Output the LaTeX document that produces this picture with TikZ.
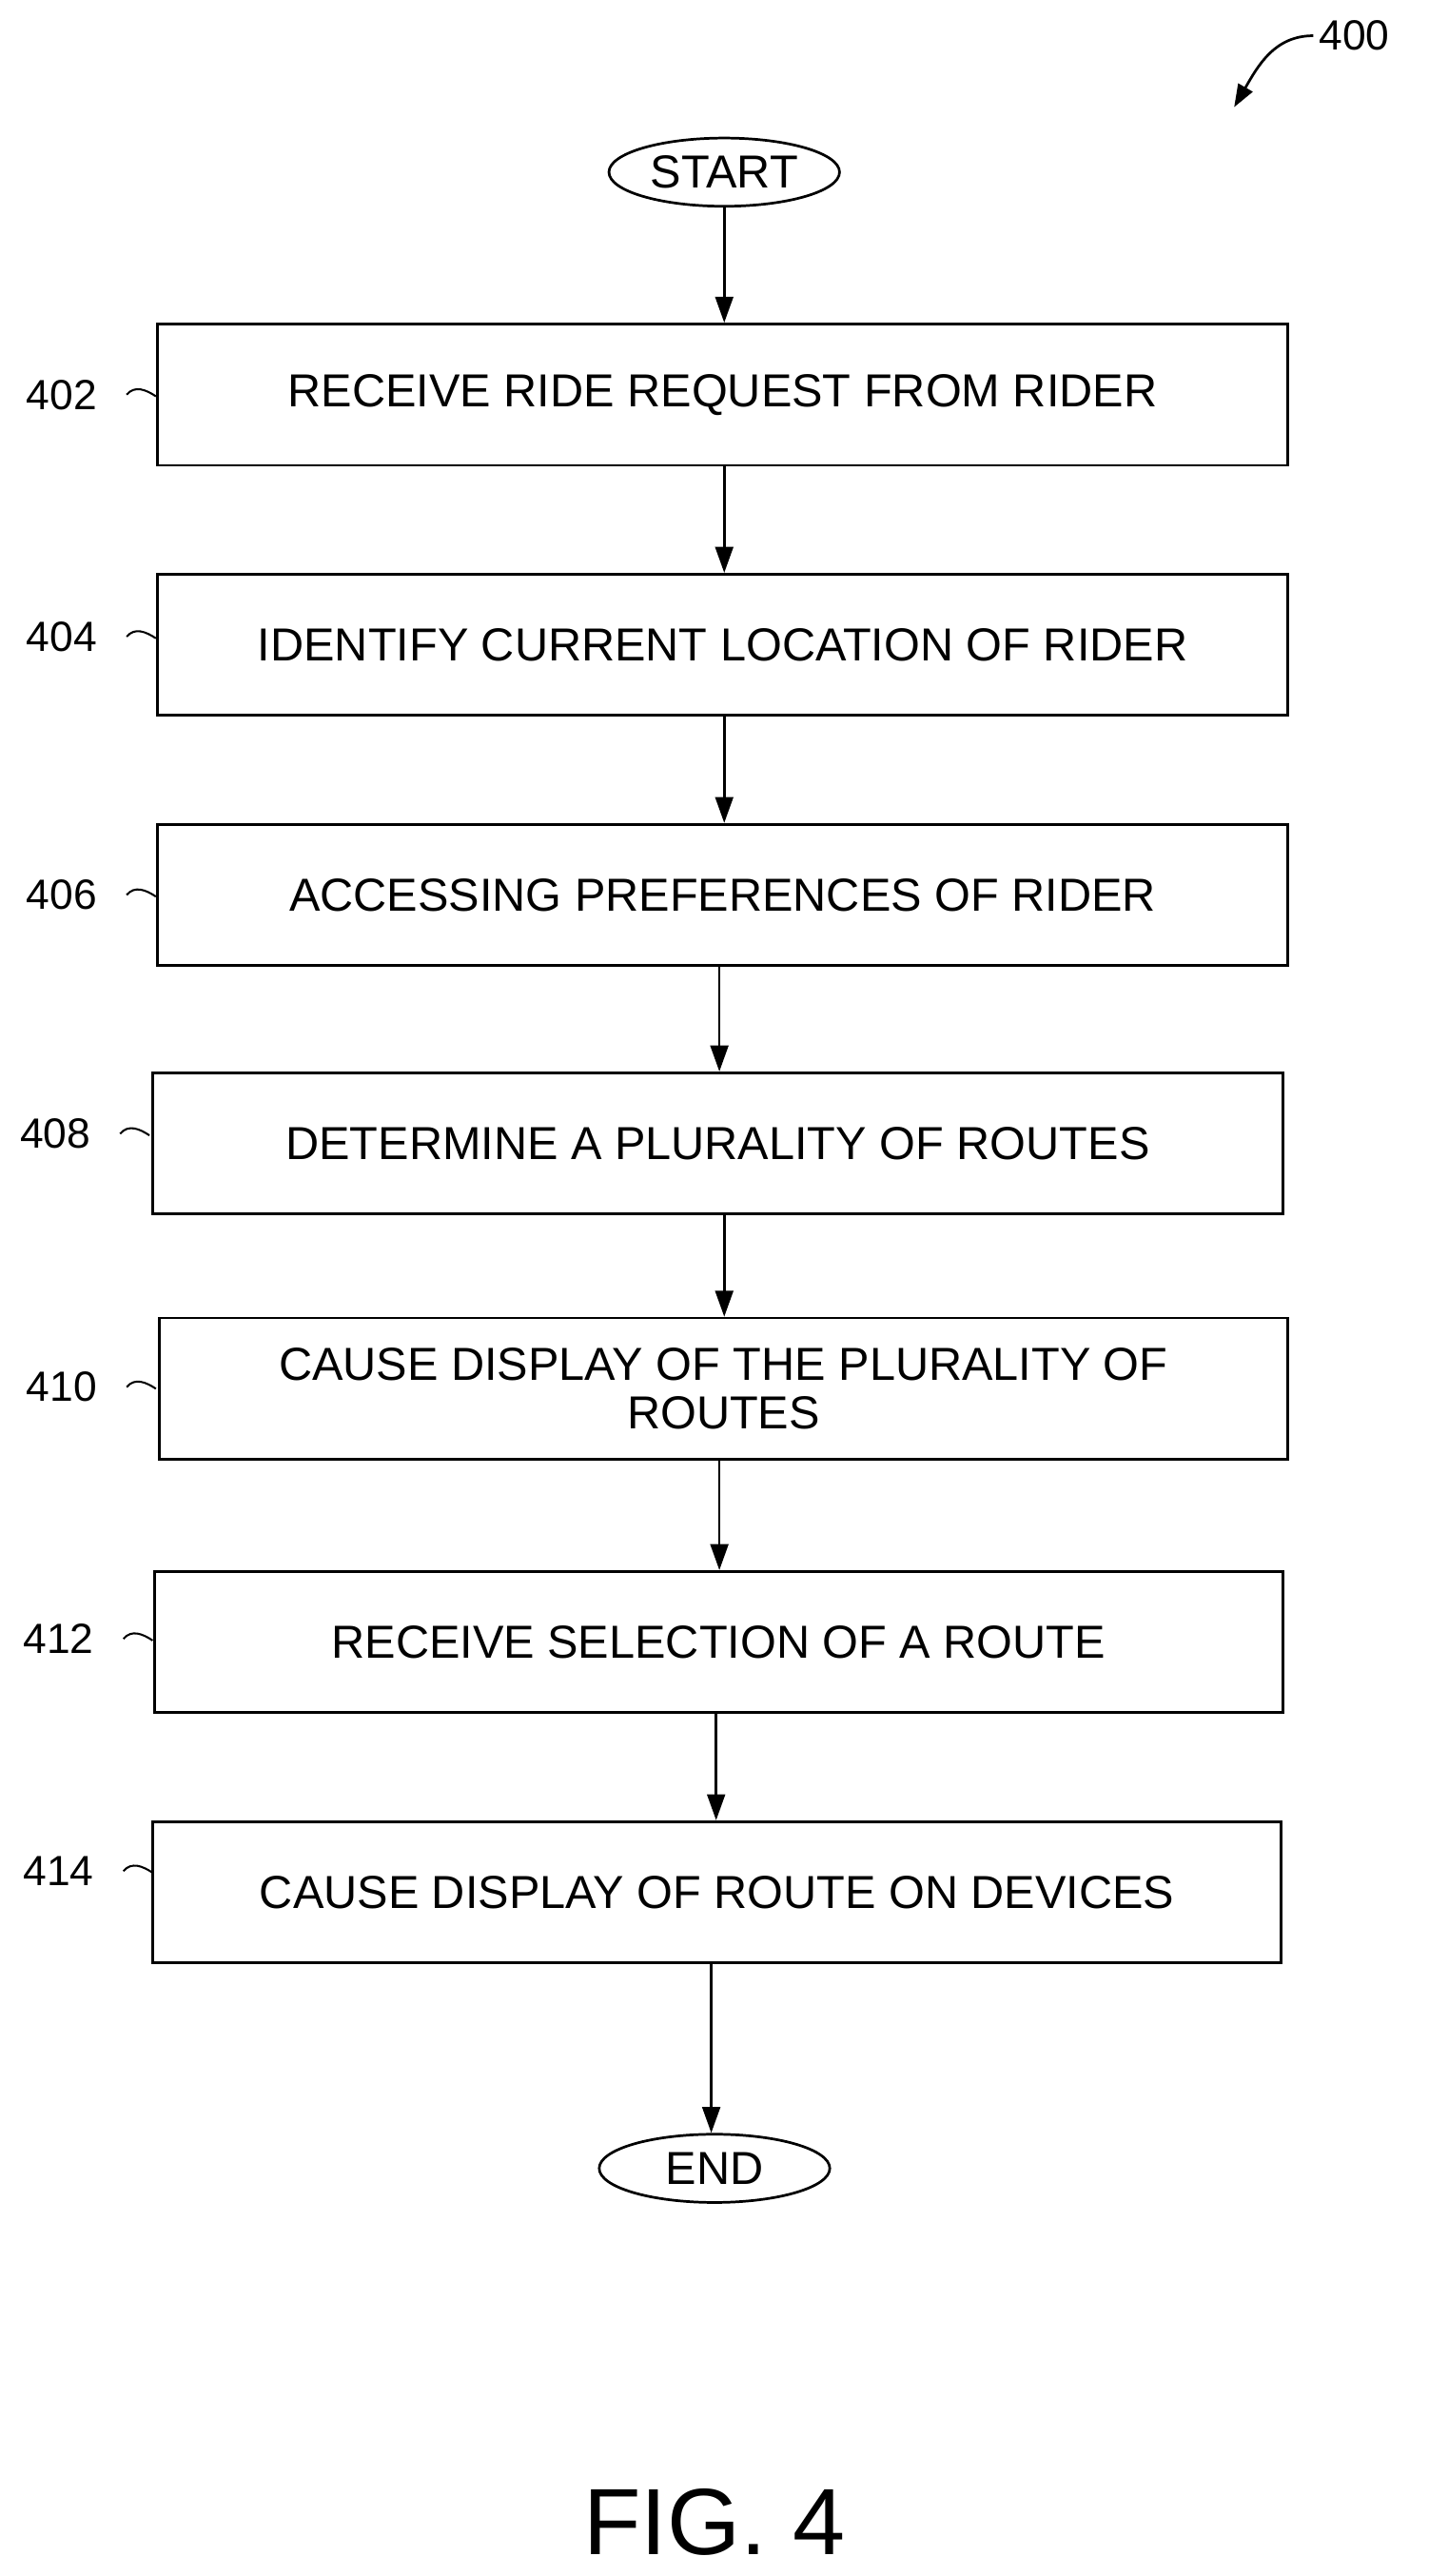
\documentclass[tikz,border=0pt]{standalone}
\usepackage{fontspec}
\setmainfont{Liberation Sans}
\usetikzlibrary{shapes.geometric,arrows.meta,calc}
\begin{document}
\begin{tikzpicture}[x=1pt,y=-1pt,
  stepbox/.style={draw,line width=1.6pt,minimum height=87pt,inner sep=0pt,font=\fontsize{28.5}{33}\selectfont,align=center},
  term/.style={draw,ellipse,line width=1.6pt,minimum width=142pt,minimum height=42pt,inner sep=0pt,font=\fontsize{28.5}{33}\selectfont},
  lbl/.style={font=\fontsize{26}{30}\selectfont},
  arr/.style={line width=1.6pt,-{Triangle[length=16pt,width=11pt]}}]
\useasboundingbox (0,0) rectangle (880,1586);
\node[term] (start) at (446,106) {START};
\node[stepbox,minimum width=696pt] (b402) at (445,243) {RECEIVE RIDE REQUEST FROM RIDER};
\node[stepbox,minimum width=696pt] (b404) at (445,397) {IDENTIFY CURRENT LOCATION OF RIDER};
\node[stepbox,minimum width=696pt] (b406) at (445,551) {ACCESSING PREFERENCES OF RIDER};
\node[stepbox,minimum width=696pt] (b408) at (442,704) {DETERMINE A PLURALITY OF ROUTES};
\node[stepbox,minimum width=695pt] (b410) at (445.5,855) {CAUSE DISPLAY OF THE PLURALITY OF\\[-3pt]ROUTES};
\node[stepbox,minimum width=695pt] (b412) at (442.5,1011) {RECEIVE SELECTION OF A ROUTE};
\node[stepbox,minimum width=695pt] (b414) at (441.5,1165) {CAUSE DISPLAY OF ROUTE ON DEVICES};
\node[term] (end) at (440,1335) {END};
\coordinate (x1) at (446,0); \coordinate (x2) at (446,0); \coordinate (x3) at (443,0);
\coordinate (x4) at (446,0); \coordinate (x5) at (443,0); \coordinate (x6) at (441,0); \coordinate (x7) at (438,0);
\draw[arr] (start.south -| x1) -- (b402.north -| x1);
\draw[arr] (b402.south -| x2) -- (b404.north -| x2);
\draw[arr] (b404.south -| x2) -- (b406.north -| x2);
\draw[arr] (b406.south -| x3) -- (b408.north -| x3);
\draw[arr] (b408.south -| x4) -- (b410.north -| x4);
\draw[arr] (b410.south -| x5) -- (b412.north -| x5);
\draw[arr] (b412.south -| x6) -- (b414.north -| x6);
\draw[arr] (b414.south -| x7) -- (end.north -| x7);
\foreach \n/\y/\x in {402/243/38,404/392/38,406/551/38,408/698/34,410/854/38,412/1009/36,414/1152/36}{
  \node[lbl] (l\n) at (\x,\y) {\n};
  \draw[line width=1.2pt] ($(\x,\y)+(40,0)$) .. controls +(5,-6) and +(-6,-4) .. +(18,1);
}
\node[lbl] (l400) at (834,22) {400};
\draw[line width=1.6pt,-{Triangle[length=14pt,width=10pt]}] (l400.west) .. controls (785,22) and (775,40) .. (760,66);
\node[font=\fontsize{58}{62}\selectfont] (fig) at (440,1553) {FIG. 4};
\end{tikzpicture}
\end{document}
